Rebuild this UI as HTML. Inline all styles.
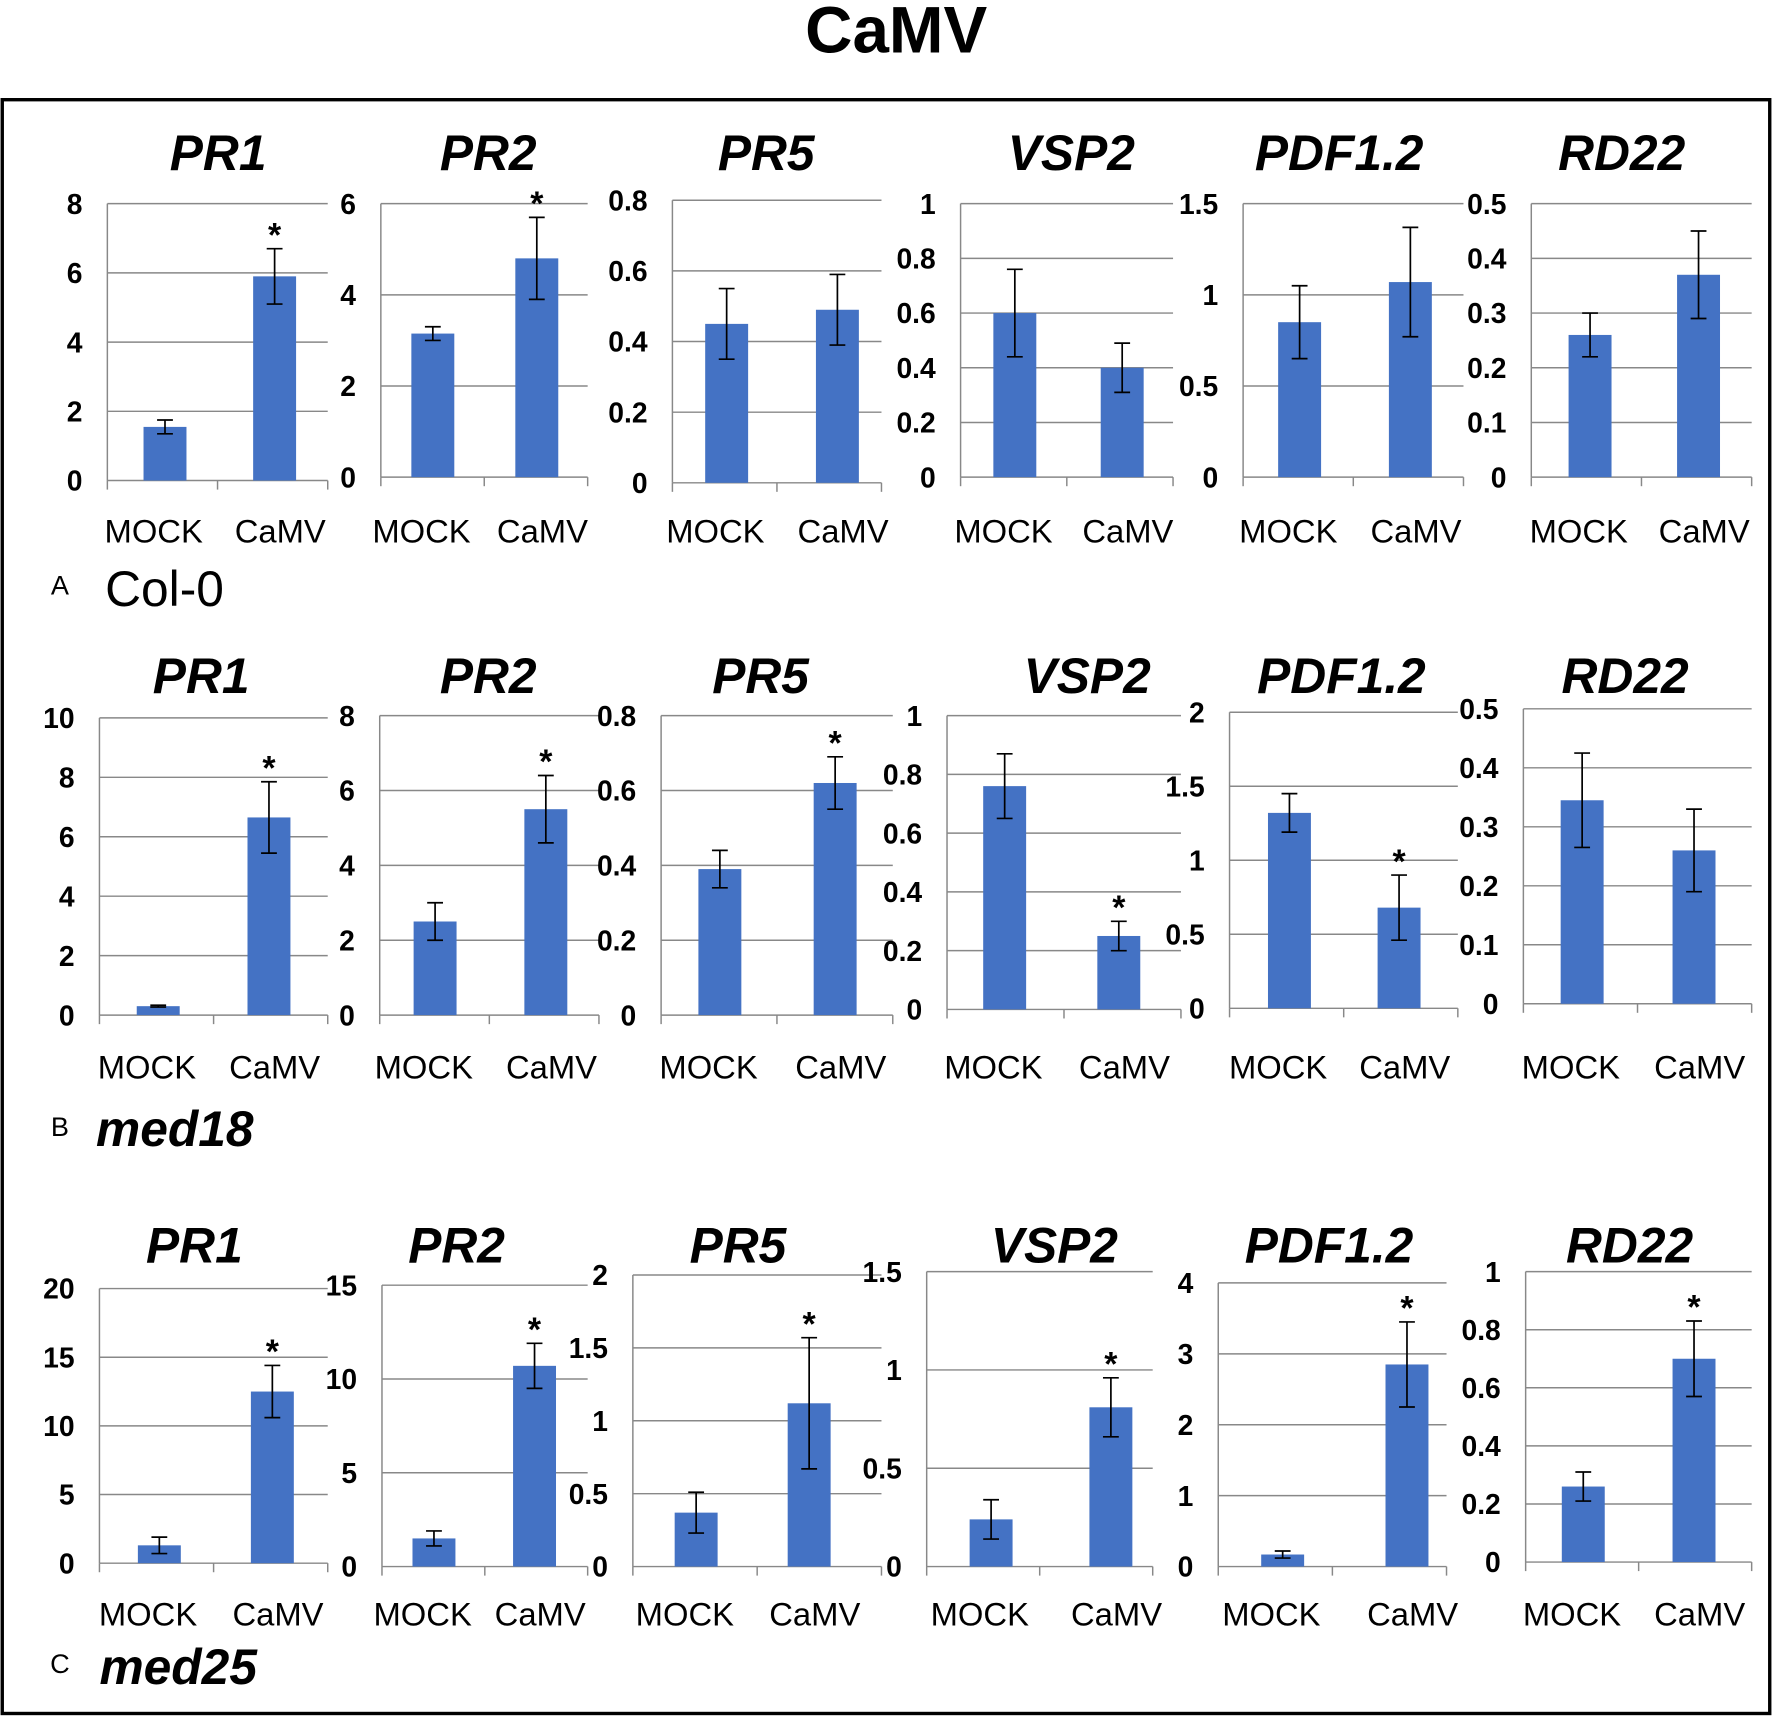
<!DOCTYPE html>
<html><head><meta charset="utf-8"><style>
html,body{margin:0;padding:0;background:#fff;}
svg{display:block;}
text{font-family:"Liberation Sans",sans-serif;}
</style></head><body>
<svg id="fig" width="1772" height="1716" viewBox="0 0 1568 1518" xmlns="http://www.w3.org/2000/svg">
<text x="793" y="46" text-anchor="middle" font-size="58" font-weight="bold">CaMV</text>
<rect x="2" y="88" width="1564" height="1428" fill="none" stroke="#000" stroke-width="3"/>
<text x="53" y="526" text-anchor="middle" font-size="24">A</text>
<text x="93" y="536" font-size="44">Col-0</text>
<text x="53" y="1005" text-anchor="middle" font-size="24">B</text>
<text x="85" y="1014" font-size="44" font-style="italic" font-weight="bold">med18</text>
<text x="53" y="1480" text-anchor="middle" font-size="24">C</text>
<text x="88" y="1490" font-size="44" font-style="italic" font-weight="bold">med25</text>
<g id="charts"></g>
</svg>
<script>
const categories = ["MOCK", "CaMV"];
const genes = ["PR1","PR2","PR5","VSP2","PDF1.2","RD22"];
const valuesA = [[1.55,5.9],[3.15,4.8],[0.45,0.49],[0.6,0.4],[0.85,1.07],[0.26,0.37]];
const errorsA = [[0.2,0.8],[0.15,0.9],[0.1,0.1],[0.16,0.09],[0.2,0.3],[0.04,0.08]];
const starsA  = [[0,1],[0,1],[0,0],[0,0],[0,0],[0,0]];
const valuesB = [[0.3,6.65],[2.5,5.5],[0.39,0.62],[0.76,0.25],[1.32,0.68],[0.345,0.26]];
const errorsB = [[0.03,1.2],[0.5,0.9],[0.05,0.07],[0.11,0.05],[0.13,0.22],[0.08,0.07]];
const starsB  = [[0,1],[0,1],[0,1],[0,1],[0,1],[0,0]];
const valuesC = [[1.3,12.5],[1.5,10.7],[0.37,1.12],[0.24,0.81],[0.17,2.85],[0.26,0.7]];
const errorsC = [[0.6,1.9],[0.4,1.2],[0.14,0.45],[0.1,0.15],[0.05,0.6],[0.05,0.13]];
const starsC  = [[0,1],[0,1],[0,1],[0,1],[0,1],[0,1]];
const ticksA = [[0,2,4,6,8],[0,2,4,6],[0,0.2,0.4,0.6,0.8],[0,0.2,0.4,0.6,0.8,1],[0,0.5,1,1.5],[0,0.1,0.2,0.3,0.4,0.5]];
const ticksB = [[0,2,4,6,8,10],[0,2,4,6,8],[0,0.2,0.4,0.6,0.8],[0,0.2,0.4,0.6,0.8,1],[0,0.5,1,1.5,2],[0,0.1,0.2,0.3,0.4,0.5]];
const ticksC = [[0,5,10,15,20],[0,5,10,15],[0,0.5,1,1.5,2],[0,0.5,1,1.5],[0,1,2,3,4],[0,0.2,0.4,0.6,0.8,1]];

const layout = [
 {row:"a", vals:valuesA, errs:errorsA, stars:starsA, ticks:ticksA, labY:470, titleY:150,
  axes:[[95,180,425,290,146,243],[337,180,422,520,383,475],[595,177,427,780,643,741],[850,180,422,1038,898,993],[1100,180,422,1295,1150,1248],[1355,180,422,1550,1407,1503]],
  titleX:[193,432,678,948,1185,1435]},
 {row:"b", vals:valuesB, errs:errorsB, stars:starsB, ticks:ticksB, labY:944, titleY:613,
  axes:[[88,635,898,290,140,238],[336,633,898,530,385,483],[585,633,898,790,637,739],[838,633,893,1045,889,990],[1088,630,892,1290,1141,1238],[1348,627,888,1550,1400,1499]],
  titleX:[178,432,673,962,1187,1438]},
 {row:"c", vals:valuesC, errs:errorsC, stars:starsC, ticks:ticksC, labY:1428, titleY:1117,
  axes:[[88,1140,1383,290,141,241],[338,1137,1386,520,384,473],[560,1128,1386,780,616,716],[820,1125,1386,1020,877,983],[1078,1135,1386,1280,1135,1245],[1350,1125,1382,1550,1401,1499]],
  titleX:[172,404,653,933,1176,1442]}
];
const labelShift=[-10,5];
const NS="http://www.w3.org/2000/svg";
const root=document.getElementById("charts");
function mk(tag,attrs,parent){const e=document.createElementNS(NS,tag);for(const k in attrs)e.setAttribute(k,attrs[k]);parent.appendChild(e);return e;}
layout.forEach(R=>{
 genes.forEach((g,gi)=>{
  const [L,T,B,Rt,c0,c1]=R.axes[gi];
  const tk=R.ticks[gi]; const ymax=tk[tk.length-1];
  const y=v=>B-(v/ymax)*(B-T);
  const grp=mk("g",{},root);
  
  
  const t=mk("text",{x:R.titleX[gi],y:R.titleY,"text-anchor":"middle","font-size":44,"font-weight":"bold","font-style":"italic"},grp);
  t.textContent=g;
  
  
  tk.forEach(v=>{
   const gl=mk("line",{x1:L,x2:Rt,y1:y(v),y2:y(v),stroke:"#888","stroke-width":1.3},grp);
   
   
   const tl=mk("text",{x:L-22,y:y(v)+9,"text-anchor":"end","font-size":25,"font-weight":"bold"},grp);
   tl.textContent=String(v);
   
   
  });
  const ax=mk("line",{x1:L,x2:L,y1:T,y2:B,stroke:"#888","stroke-width":1.3},grp);
  
  
  const mid=(L+Rt)/2;
  [L,mid,Rt].forEach(xx=>{
   const tm=mk("line",{x1:xx,x2:xx,y1:B,y2:B+8,stroke:"#888","stroke-width":1.3},grp);
   
   
  });
  const centers=[c0,c1];
  categories.forEach((c,ci)=>{
   const v=R.vals[gi][ci], e=R.errs[gi][ci], cx=centers[ci];
   const bar=mk("rect",{x:cx-19,y:y(v),width:38,height:B-y(v),fill:"#4472C4"},grp);
   
   
   const eb=mk("path",{d:`M${cx},${y(v+e)}V${y(v-e)}M${cx-7},${y(v+e)}H${cx+7}M${cx-7},${y(v-e)}H${cx+7}`,stroke:"#000","stroke-width":1.5,fill:"none"},grp);
   
   
   if(R.stars[gi][ci]){
    const st=mk("text",{x:cx,y:y(v+e)-2,"text-anchor":"middle","font-size":30,"font-weight":"bold"},grp);
    st.textContent="*";
    
    
   }
   const cl=mk("text",{x:cx+labelShift[ci],y:R.labY+10,"text-anchor":"middle","font-size":29},grp);
   cl.textContent=c;
   
   
  });
 });
});
</script>
</body></html>
